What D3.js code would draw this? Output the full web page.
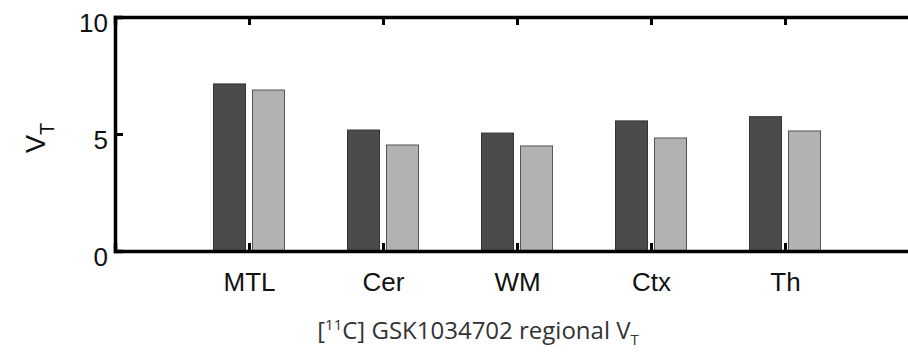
<!DOCTYPE html>
<html>
<head>
<meta charset="utf-8">
<script src="https://cdn.jsdelivr.net/npm/d3@7"></script>
<style>
  body { margin: 0; background: #fff; }
  svg { display: block; }
</style>
</head>
<body>
<div id="chart"></div>
<script>
// regions and the two V_T series
const regions = ["MTL", "Cer", "WM", "Ctx", "Th"];
const seriesA = [7.14, 5.17, 5.04, 5.56, 5.74];
const seriesB = [6.88, 4.53, 4.49, 4.83, 5.13];
const yTicks = [0, 5, 10];

const W = 908, H = 352;
const svg = d3.select("#chart").append("svg")
  .attr("width", W).attr("height", H);

// region i sits at x = i+1, plot runs 0..6 (right edge clipped by the window)
const x = d3.scaleLinear().domain([0, 6]).range([115, 919]);
const y = d3.scaleLinear().domain([0, 10]).range([251, 17]);

const barW = 32, off = 19.5;
const g = svg.append("g");

const rows = regions.map((r, i) => ({ r, i: i + 1, a: seriesA[i], b: seriesB[i] }));

g.selectAll("rect.a").data(rows).enter().append("rect")
  .attr("class", "a")
  .attr("x", d => x(d.i) - off - barW / 2)
  .attr("y", d => y(d.a))
  .attr("width", barW)
  .attr("height", d => y(0) - y(d.a))
  .attr("fill", "#4b4b4b").attr("stroke", "#333").attr("stroke-width", 1);

g.selectAll("rect.b").data(rows).enter().append("rect")
  .attr("class", "b")
  .attr("x", d => x(d.i) + off - barW / 2)
  .attr("y", d => y(d.b))
  .attr("width", barW)
  .attr("height", d => y(0) - y(d.b))
  .attr("fill", "#b2b2b2").attr("stroke", "#555").attr("stroke-width", 1);

// axes, matlab style box with inward ticks
const font = "'Liberation Sans', Arial, sans-serif";
const xBottom = d3.axisBottom(x).tickValues(rows.map(d => d.i))
  .tickFormat((d, i) => regions[i]).tickSize(-8).tickPadding(22);
const xTop = d3.axisTop(x).tickValues(rows.map(d => d.i))
  .tickFormat("").tickSize(-8);
const yLeft = d3.axisLeft(y).tickValues(yTicks).tickSize(-8).tickPadding(7);

function style(sel) {
  sel.select(".domain").attr("stroke", "#000").attr("stroke-width", 3.5);
  sel.selectAll(".tick line").attr("stroke", "#000").attr("stroke-width", 3);
  sel.selectAll("text").attr("fill", "#111").style("font-family", font).style("font-size", "26px");
}

svg.append("g").attr("transform", `translate(0,${y(0)})`).call(xBottom).call(style);
svg.append("g").attr("transform", `translate(0,${y(10)})`).call(xTop).call(style);
svg.append("g").attr("transform", `translate(${x(0)},0)`).call(yLeft).call(style)
  .selectAll(".tick text").attr("dy", "0.54em");

// y label V_T
const yl = svg.append("text")
  .attr("transform", `translate(45,${y(5) + 4}) rotate(-90)`)
  .attr("text-anchor", "middle")
  .style("font-family", font).style("font-size", "27px").attr("fill", "#111");
yl.append("tspan").text("V");
yl.append("tspan").attr("dy", 9).style("font-size", "20px").text("T");

// caption under the panel
const cap = svg.append("text")
  .attr("x", 478).attr("y", 339)
  .attr("text-anchor", "middle")
  .style("font-family", "'Open Sans', 'Noto Sans', sans-serif")
  .style("font-size", "24px").attr("fill", "#333");
cap.append("tspan").text("[");
cap.append("tspan").attr("dy", -9).style("font-size", "15px").text("11");
cap.append("tspan").attr("dy", 9).text("C] GSK1034702 regional V");
cap.append("tspan").attr("dy", 6).style("font-size", "15px").text("T");
</script>
</body>
</html>
